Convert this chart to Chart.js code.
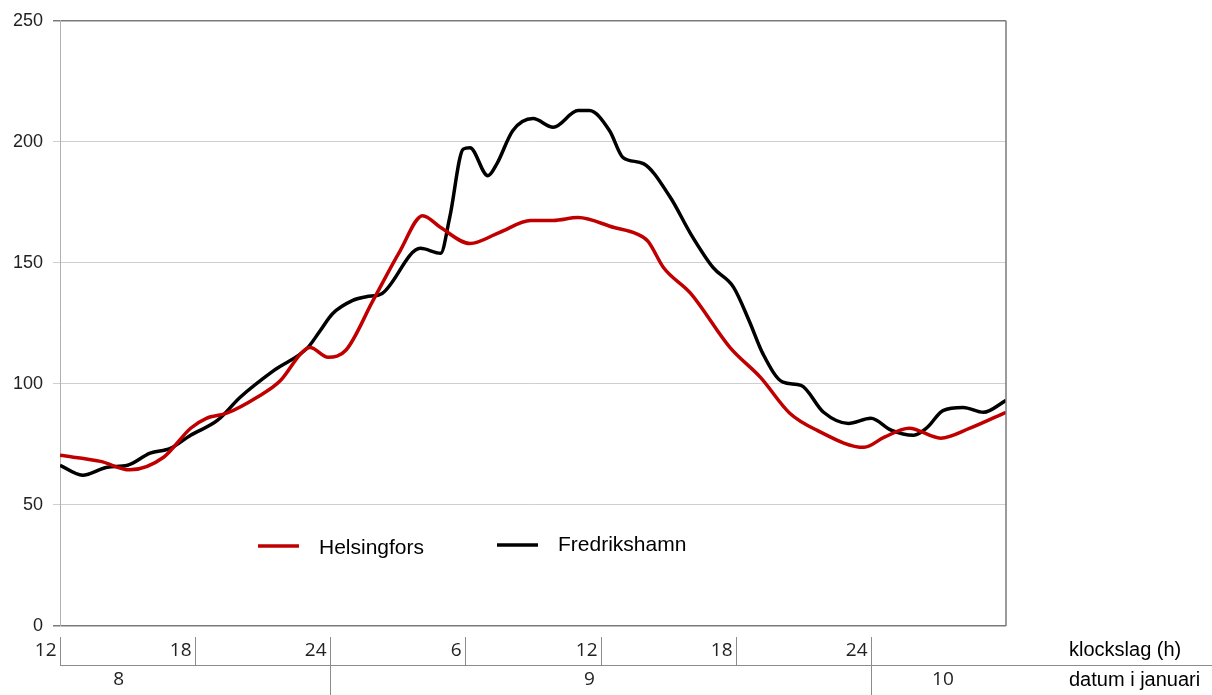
<!DOCTYPE html>
<html>
<head>
<meta charset="utf-8">
<script src="https://cdn.jsdelivr.net/npm/chart.js@4"></script>
<style>
  html, body { margin: 0; padding: 0; background: #fff; }
  #wrap { width: 1212px; height: 695px; position: relative; }
</style>
</head>
<body>
<div id="wrap"><canvas id="chart"></canvas></div>
<script>
// hours counted from 12:00 on 8 January
const helsHours = [0, 1.8, 3.1, 4.6, 5.8, 6.5, 7.4, 8.75, 9.8, 10.7, 11.1, 11.9, 12.7, 13.9, 15.1, 16.1, 16.9, 18.2, 19.5, 20.9, 21.9, 23.0, 24.6, 25.6, 26.1, 26.8, 28.0, 29.75, 31.1, 32.4, 33.6, 35.7, 36.6, 37.7, 39.1, 40.4, 42];
const helsValues = [70.5, 68, 64.5, 69.7, 81.7, 85.8, 87.9, 94.5, 101.5, 112.6, 115, 111, 114, 134.5, 155, 169.5, 164.6, 158, 162.5, 167.5, 167.5, 168.7, 164.6, 162, 159, 148, 137.4, 115, 102.7, 87.9, 80.9, 73.8, 78, 81.7, 77.6, 81.7, 88.3];

const fredHours = [0, 1.0, 2.1, 3.0, 4.0, 4.9, 5.8, 7.0, 8.0, 9.5, 11.0, 11.55, 12.1, 13.0, 13.6, 14.3, 16.0, 16.9, 17.3, 17.9, 18.2, 19.0, 19.4, 20.1, 21.0, 21.9, 23.0, 23.5, 24.4, 25.0, 25.9, 27.1, 28.0, 29.0, 29.9, 30.6, 31.2, 32.1, 32.9, 33.9, 35.0, 36.0, 36.9, 37.9, 38.5, 39.2, 40.1, 41.0, 42];
const fredValues = [66.4, 62.3, 65.6, 66.4, 71.4, 73.4, 78.8, 85, 94.5, 105.6, 115, 122, 129, 134.5, 136, 137.4, 156, 154, 168.7, 197, 197.6, 186, 191, 204.6, 209.6, 206, 212.9, 212.9, 204.6, 193.5, 191, 177, 162, 148, 140, 126, 112.6, 100.7, 99.4, 88.3, 83.7, 85.8, 80.9, 78.8, 82, 89, 90.3, 88.3, 93.2];

const yTicks = [0, 50, 100, 150, 200, 250];
const hourTicks = [0, 6, 12, 18, 24, 30, 36];
const hourLabels = ['12', '18', '24', '6', '12', '18', '24'];
const dayBreaks = [12, 36];
const dayLabelHours = [2.6, 23.5, 39.2];
const dayLabels = ['8', '9', '10'];
const seriesNames = ['Helsingfors', 'Fredrikshamn'];
const rowTitles = ['klockslag (h)', 'datum i januari'];

function pts(xs, ys) {
  return xs.map((x, i) => ({ x: x, y: ys[i] }));
}

const bottomTable = {
  id: 'bottomTable',
  afterDraw(chart) {
    const ctx = chart.ctx;
    const xs = chart.scales.x;
    const area = chart.chartArea;
    ctx.save();
    // right border of plot
    ctx.strokeStyle = '#7a7a7a';
    ctx.lineWidth = 1.5;
    ctx.beginPath();
    ctx.moveTo(area.right, area.top);
    ctx.lineTo(area.right, area.bottom);
    ctx.stroke();

    const rowTop = 637, rowLine = 665;
    ctx.strokeStyle = '#8c8c8c';
    ctx.lineWidth = 1;
    ctx.beginPath();
    ctx.moveTo(area.left, rowLine + 0.5);
    ctx.lineTo(1212, rowLine + 0.5);
    ctx.stroke();

    ctx.font = '19px "Open Sans", sans-serif';
    ctx.fillStyle = '#222';
    ctx.textBaseline = 'middle';
    ctx.textAlign = 'right';
    hourTicks.forEach((h, i) => {
      const px = Math.round(xs.getPixelForValue(h)) + 0.5;
      const long = dayBreaks.includes(h);
      ctx.beginPath();
      ctx.moveTo(px, rowTop);
      ctx.lineTo(px, long ? 695 : rowLine);
      ctx.stroke();
      ctx.fillText(hourLabels[i], px - 4, 651);
    });
    ctx.textAlign = 'center';
    dayLabels.forEach((d, i) => {
      ctx.fillText(d, xs.getPixelForValue(dayLabelHours[i]), 680);
    });

    ctx.font = '20px "Liberation Sans", Arial, sans-serif';
    ctx.fillStyle = '#000';
    ctx.textAlign = 'left';
    ctx.fillText(rowTitles[0], 1069, 650);
    ctx.fillText(rowTitles[1], 1069, 680);

    // legend inside the plot
    ctx.font = '21px "Liberation Sans", Arial, sans-serif';
    const legendX = [258, 497];
    const legendY = [546, 545];
    const textY = [548, 545];
    chart.data.datasets.forEach((ds, i) => {
      ctx.strokeStyle = ds.borderColor;
      ctx.lineWidth = 3.5;
      ctx.beginPath();
      ctx.moveTo(legendX[i], legendY[i]);
      ctx.lineTo(legendX[i] + 41, legendY[i]);
      ctx.stroke();
      ctx.fillStyle = '#000';
      ctx.fillText(ds.label, legendX[i] + 61, textY[i]);
    });
    ctx.restore();
  }
};

new Chart(document.getElementById('chart'), {
  type: 'line',
  data: {
    datasets: [
      {
        label: seriesNames[0],
        data: pts(helsHours, helsValues),
        borderColor: '#c00000',
        borderWidth: 3.5,
        pointRadius: 0,
        tension: 0.4,
        cubicInterpolationMode: 'monotone',
        fill: false
      },
      {
        label: seriesNames[1],
        data: pts(fredHours, fredValues),
        borderColor: '#000000',
        borderWidth: 3.5,
        pointRadius: 0,
        tension: 0.4,
        cubicInterpolationMode: 'monotone',
        fill: false
      }
    ]
  },
  options: {
    responsive: true,
    maintainAspectRatio: false,
    animation: false,
    layout: { padding: { top: 20, right: 206, bottom: 69, left: 0 } },
    plugins: { legend: { display: false }, tooltip: { enabled: false } },
    scales: {
      x: {
        type: 'linear',
        min: 0,
        max: 42,
        display: false
      },
      y: {
        min: 0,
        max: 250,
        afterFit(scale) { scale.width = 60; },
        afterBuildTicks(scale) { scale.ticks = yTicks.map(v => ({ value: v })); },
        border: { display: true, color: '#b0b0b0', width: 1 },
        grid: {
          color: ctx => (ctx.tick && (ctx.tick.value === 250 || ctx.tick.value === 0)) ? '#7a7a7a' : '#cfcfcf',
          lineWidth: ctx => (ctx.tick && (ctx.tick.value === 250 || ctx.tick.value === 0)) ? 1.5 : 1,
          tickLength: 7
        },
        ticks: {
          color: '#222',
          padding: 10,
          font: { family: '"Liberation Sans", Arial, sans-serif', size: 18 }
        }
      }
    }
  },
  plugins: [bottomTable]
});
</script>
</body>
</html>
